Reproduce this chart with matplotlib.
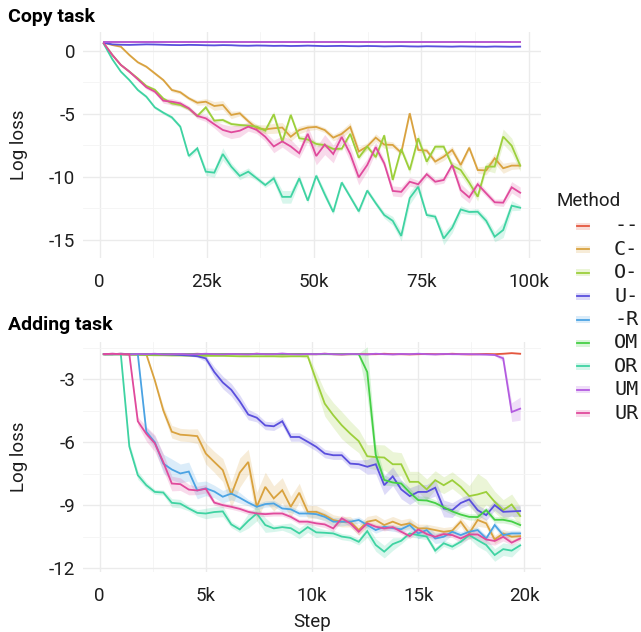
import numpy as np
import matplotlib
matplotlib.use("Agg")
import matplotlib.pyplot as plt
from matplotlib.lines import Line2D
from matplotlib.patches import Rectangle

plt.rcParams["font.family"] = ["Roboto", "DejaVu Sans"]

W, H = 641, 632

methods = ["--", "C-", "O-", "U-", "-R", "OM", "OR", "UM", "UR"]
method_colors = ["#E4573F", "#D9A23F", "#9CCF3B", "#5A4FDD", "#4BA3E3",
                 "#45CF45", "#3FD3A2", "#B35BE0", "#E04A9C"]

# ---------------- Copy task ----------------
copy_steps = np.linspace(1000, 98000, 50)

copy_dash = [0.70, 0.70, 0.70, 0.70, 0.70, 0.70, 0.70, 0.70, 0.70, 0.70,
             0.70, 0.70, 0.70, 0.70, 0.70, 0.70, 0.70, 0.70, 0.70, 0.70,
             0.70, 0.70, 0.70, 0.70, 0.70, 0.70, 0.70, 0.70, 0.70, 0.70,
             0.70, 0.70, 0.70, 0.70, 0.70, 0.70, 0.70, 0.70, 0.70, 0.70,
             0.70, 0.70, 0.70, 0.70, 0.70, 0.70, 0.70, 0.70, 0.70, 0.70]
copy_c = [0.64, 0.45, 0.32, -0.34, -0.92, -1.27, -1.80, -2.33, -3.12, -3.30,
          -3.78, -4.13, -4.05, -4.39, -4.31, -5.10, -4.97, -5.60, -6.16, -6.24,
          -6.16, -6.10, -6.83, -6.30, -6.10, -6.05, -6.30, -6.90, -6.60, -6.05,
          -8.00, -7.60, -6.90, -7.45, -7.48, -8.10, -4.97, -7.88, -7.93, -8.80,
          -8.41, -7.88, -9.07, -7.70, -9.47, -9.50, -8.54, -9.33, -9.12, -9.12]
copy_o = [0.58, -0.34, -1.13, -1.66, -2.20, -2.80, -3.10, -3.80, -4.18, -4.31,
          -4.60, -5.18, -4.50, -5.55, -5.50, -5.82, -5.90, -5.95, -6.03, -6.35,
          -5.05, -7.22, -5.10, -6.95, -7.05, -7.40, -7.50, -7.80, -7.78, -6.60,
          -8.50, -7.60, -8.45, -6.72, -10.26, -7.80, -9.47, -6.95, -8.81, -7.62,
          -7.62, -9.12, -9.47, -10.47, -11.59, -9.20, -9.20, -6.82, -7.54, -9.12]
copy_u = [0.62, 0.50, 0.47, 0.46, 0.48, 0.50, 0.49, 0.47, 0.45, 0.44,
          0.46, 0.45, 0.43, 0.42, 0.44, 0.43, 0.40, 0.39, 0.41, 0.40,
          0.38, 0.39, 0.37, 0.38, 0.40, 0.38, 0.36, 0.37, 0.38, 0.36,
          0.35, 0.37, 0.36, 0.34, 0.35, 0.36, 0.34, 0.33, 0.35, 0.34,
          0.33, 0.32, 0.34, 0.33, 0.32, 0.31, 0.33, 0.32, 0.31, 0.32]
copy_or = [0.53, -0.68, -1.66, -2.33, -3.12, -3.65, -4.50, -4.92, -5.29, -6.03,
           -8.36, -7.75, -9.60, -9.68, -8.20, -9.20, -9.94, -9.60, -10.13, -10.66,
           -10.13, -11.60, -11.60, -10.13, -11.90, -9.92, -11.40, -12.80, -10.46, -11.60,
           -12.75, -11.10, -12.10, -13.04, -13.50, -14.70, -11.70, -10.80, -13.04, -13.17,
           -14.90, -14.05, -12.60, -12.80, -12.78, -13.50, -14.76, -14.23, -12.30, -12.46]
copy_um = [0.68, 0.68, 0.68, 0.68, 0.68, 0.68, 0.68, 0.68, 0.68, 0.68,
           0.68, 0.68, 0.68, 0.68, 0.68, 0.68, 0.68, 0.68, 0.68, 0.68,
           0.68, 0.68, 0.68, 0.68, 0.68, 0.68, 0.68, 0.68, 0.68, 0.68,
           0.68, 0.68, 0.68, 0.68, 0.68, 0.68, 0.68, 0.68, 0.68, 0.68,
           0.68, 0.68, 0.68, 0.68, 0.68, 0.68, 0.68, 0.68, 0.68, 0.68]
copy_ur = [0.58, -0.34, -1.13, -1.66, -2.27, -2.90, -3.25, -3.97, -4.05, -4.18,
           -4.57, -5.18, -5.37, -5.84, -6.29, -6.48, -6.35, -6.03, -6.29, -6.83,
           -7.60, -7.20, -7.60, -8.14, -6.60, -8.36, -7.45, -8.20, -6.85, -8.20,
           -10.05, -9.07, -7.65, -8.94, -11.13, -11.20, -10.40, -10.60, -9.80, -10.40,
           -10.26, -9.07, -11.06, -11.64, -10.60, -11.32, -12.03, -12.06, -10.84, -11.27]

# half-widths of the shaded bands
copy_dash_sd = [0.02] * 50
copy_u_sd = [0.03] * 50
copy_um_sd = [0.02] * 50
copy_c_sd = [0.05, 0.05, 0.08, 0.10, 0.10, 0.10, 0.12, 0.12, 0.15, 0.15,
             0.15, 0.20, 0.25, 0.35, 0.35, 0.30, 0.20, 0.20, 0.30, 0.35,
             0.40, 0.40, 0.35, 0.30, 0.25, 0.20, 0.20, 0.25, 0.30, 0.35,
             0.35, 0.30, 0.30, 0.30, 0.25, 0.20, 0.20, 0.20, 0.20, 0.25,
             0.30, 0.30, 0.25, 0.20, 0.25, 0.35, 0.40, 0.40, 0.30, 0.25]
copy_o_sd = [0.05, 0.08, 0.10, 0.10, 0.10, 0.12, 0.12, 0.12, 0.15, 0.15,
             0.15, 0.15, 0.20, 0.15, 0.15, 0.15, 0.15, 0.15, 0.20, 0.20,
             0.25, 0.25, 0.20, 0.25, 0.25, 0.20, 0.20, 0.15, 0.15, 0.20,
             0.20, 0.20, 0.20, 0.20, 0.20, 0.25, 0.30, 0.35, 0.30, 0.20,
             0.20, 0.30, 0.40, 0.40, 0.35, 0.30, 0.50, 0.60, 0.60, 0.45]
copy_or_sd = [0.05, 0.08, 0.10, 0.10, 0.12, 0.12, 0.12, 0.12, 0.15, 0.15,
              0.20, 0.20, 0.30, 0.35, 0.50, 0.30, 0.30, 0.30, 0.20, 0.20,
              0.30, 0.50, 0.50, 0.30, 0.20, 0.20, 0.30, 0.20, 0.20, 0.20,
              0.20, 0.20, 0.20, 0.25, 0.35, 0.40, 0.50, 0.40, 0.20, 0.20,
              0.50, 0.40, 0.30, 0.20, 0.25, 0.30, 0.40, 0.60, 0.40, 0.20]
copy_ur_sd = [0.05, 0.08, 0.10, 0.12, 0.12, 0.15, 0.15, 0.20, 0.25, 0.20,
              0.20, 0.20, 0.25, 0.30, 0.45, 0.50, 0.50, 0.35, 0.30, 0.35,
              0.50, 0.45, 0.55, 0.40, 0.60, 0.70, 0.80, 0.70, 0.50, 0.60,
              0.60, 0.50, 0.40, 0.30, 0.40, 0.40, 0.35, 0.30, 0.25, 0.25,
              0.25, 0.30, 0.50, 0.45, 0.30, 0.25, 0.25, 0.30, 0.45, 0.45]

# ---------------- Adding task ----------------
add_steps = np.arange(200, 20000, 400)

add_dash = [-1.80, -1.80, -1.78, -1.80, -1.79, -1.80, -1.81, -1.80, -1.79, -1.80,
            -1.80, -1.78, -1.80, -1.81, -1.80, -1.79, -1.80, -1.80, -1.78, -1.80,
            -1.80, -1.81, -1.80, -1.79, -1.80, -1.80, -1.78, -1.80, -1.81, -1.80,
            -1.79, -1.80, -1.80, -1.78, -1.80, -1.80, -1.81, -1.80, -1.79, -1.80,
            -1.80, -1.78, -1.80, -1.81, -1.80, -1.79, -1.80, -1.78, -1.75, -1.78]
add_c = [-1.80, -1.80, -1.80, -1.80, -1.80, -1.80, -3.05, -4.48, -5.50, -5.64,
         -5.67, -5.71, -6.54, -6.94, -7.33, -8.50, -7.45, -6.94, -9.08, -8.13,
         -8.68, -8.29, -9.08, -8.41, -9.32, -9.32, -9.48, -9.71, -9.79, -9.79,
         -10.19, -9.79, -9.71, -9.95, -9.79, -9.95, -9.87, -10.11, -10.11, -10.19,
         -10.27, -10.22, -9.79, -10.35, -9.71, -9.87, -10.64, -10.35, -10.51, -10.48]
add_o = [-1.80, -1.80, -1.80, -1.82, -1.83, -1.84, -1.85, -1.85, -1.86, -1.86,
         -1.87, -1.87, -1.88, -1.88, -1.88, -1.89, -1.90, -1.90, -1.90, -1.90,
         -1.90, -1.91, -1.90, -1.90, -1.90, -3.05, -4.16, -4.71, -5.19, -5.59,
         -5.95, -6.67, -6.71, -6.73, -7.05, -7.05, -7.89, -7.89, -8.25, -7.81,
         -8.05, -7.81, -8.13, -8.57, -8.49, -8.37, -8.84, -9.24, -8.97, -9.52]
add_u = [-1.80, -1.80, -1.78, -1.80, -1.80, -1.80, -1.80, -1.81, -1.82, -1.84,
         -1.86, -1.90, -2.00, -2.65, -3.15, -3.50, -4.05, -4.68, -4.83, -5.20,
         -5.24, -5.00, -5.75, -5.75, -5.98, -6.22, -6.54, -6.62, -6.62, -7.02,
         -7.05, -7.17, -7.05, -8.05, -7.63, -8.25, -8.57, -8.37, -8.37, -8.17,
         -9.16, -9.24, -8.90, -8.73, -9.24, -9.48, -9.00, -9.32, -9.30, -9.28]
add_r = [-1.80, -1.80, -1.80, -1.80, -1.80, -5.50, -6.00, -7.02, -7.30, -7.49,
         -7.40, -8.30, -8.20, -8.35, -8.60, -8.45, -8.65, -8.88, -9.08, -8.95,
         -8.92, -9.16, -9.20, -9.40, -9.40, -9.43, -9.56, -9.79, -9.79, -9.79,
         -9.71, -9.95, -10.19, -10.03, -10.10, -10.15, -9.95, -10.35, -10.19, -10.59,
         -10.51, -10.27, -10.43, -10.27, -10.19, -10.59, -9.95, -10.43, -10.35, -10.35]
add_om = [-1.80, -1.80, -1.80, -1.80, -1.80, -1.80, -1.80, -1.80, -1.80, -1.80,
          -1.80, -1.80, -1.80, -1.80, -1.80, -1.80, -1.80, -1.80, -1.80, -1.80,
          -1.80, -1.80, -1.80, -1.80, -1.80, -1.80, -1.80, -1.80, -1.80, -1.80,
          -1.80, -2.65, -6.60, -7.80, -7.92, -7.97, -8.40, -8.76, -8.78, -8.90,
          -9.10, -9.30, -9.45, -9.56, -9.57, -9.24, -9.70, -9.70, -9.78, -9.95]
add_or = [-1.80, -1.80, -1.80, -6.20, -7.57, -8.05, -8.37, -8.40, -8.89, -8.93,
          -9.16, -9.37, -9.40, -9.33, -9.30, -9.92, -10.16, -9.75, -9.40, -9.95,
          -10.11, -10.05, -10.10, -10.35, -10.05, -10.30, -10.32, -10.35, -10.50, -10.56,
          -10.75, -10.24, -10.90, -11.22, -10.86, -10.70, -10.35, -10.43, -10.50, -11.17,
          -10.82, -10.98, -10.75, -10.43, -10.67, -10.90, -11.38, -11.10, -11.17, -10.92]
add_um = [-1.80, -1.78, -1.80, -1.81, -1.79, -1.80, -1.78, -1.81, -1.80, -1.79,
          -1.81, -1.80, -1.78, -1.80, -1.81, -1.79, -1.80, -1.81, -1.78, -1.80,
          -1.80, -1.77, -1.80, -1.81, -1.79, -1.80, -1.78, -1.80, -1.81, -1.79,
          -1.80, -1.81, -1.78, -1.80, -1.81, -1.79, -1.80, -1.78, -1.80, -1.81,
          -1.79, -1.80, -1.80, -1.80, -1.81, -1.82, -1.84, -2.00, -4.56, -4.40]
add_ur = [-1.80, -1.78, -1.80, -1.80, -5.00, -5.60, -6.05, -6.95, -7.97, -8.00,
          -8.26, -8.30, -8.22, -8.88, -9.00, -9.08, -9.18, -9.32, -9.40, -9.43,
          -9.40, -9.40, -9.56, -9.79, -9.79, -9.87, -9.92, -10.11, -9.63, -9.87,
          -10.27, -9.87, -10.03, -10.11, -10.05, -10.27, -10.48, -10.16, -10.38, -10.51,
          -10.38, -10.43, -10.59, -10.40, -10.40, -10.64, -10.71, -10.51, -10.79, -10.59]

add_dash_sd = [0.03] * 50
add_c_sd = [0.03, 0.03, 0.03, 0.03, 0.03, 0.05, 0.10, 0.20, 0.30, 0.30,
            0.30, 0.35, 0.50, 0.50, 0.55, 0.60, 0.70, 0.60, 0.70, 0.70,
            0.60, 0.60, 0.50, 0.45, 0.30, 0.30, 0.25, 0.25, 0.25, 0.25,
            0.25, 0.25, 0.25, 0.25, 0.25, 0.25, 0.25, 0.20, 0.20, 0.20,
            0.20, 0.20, 0.20, 0.30, 0.30, 0.20, 0.20, 0.20, 0.20, 0.20]
add_o_sd = [0.03, 0.03, 0.03, 0.03, 0.03, 0.03, 0.03, 0.03, 0.03, 0.03,
            0.03, 0.03, 0.03, 0.03, 0.03, 0.03, 0.03, 0.03, 0.03, 0.03,
            0.03, 0.03, 0.03, 0.03, 0.10, 0.40, 0.60, 0.60, 0.65, 0.60,
            0.55, 0.55, 0.60, 0.60, 0.60, 0.55, 0.50, 0.50, 0.50, 0.45,
            0.40, 0.40, 0.40, 0.50, 1.00, 0.60, 0.50, 0.50, 0.50, 0.45]
add_u_sd = [0.03, 0.03, 0.03, 0.03, 0.03, 0.03, 0.03, 0.03, 0.03, 0.03,
            0.03, 0.05, 0.15, 0.25, 0.30, 0.30, 0.30, 0.25, 0.20, 0.20,
            0.20, 0.20, 0.20, 0.20, 0.20, 0.20, 0.20, 0.20, 0.20, 0.20,
            0.20, 0.35, 0.45, 0.45, 0.45, 0.45, 0.40, 0.35, 0.35, 0.40,
            0.40, 0.35, 0.25, 0.25, 0.25, 0.25, 0.25, 0.25, 0.25, 0.25]
add_r_sd = [0.03, 0.03, 0.03, 0.03, 0.03, 0.20, 0.30, 0.45, 0.50, 0.45,
            0.45, 0.40, 0.35, 0.30, 0.30, 0.30, 0.25, 0.15, 0.15, 0.15,
            0.15, 0.15, 0.15, 0.15, 0.15, 0.20, 0.20, 0.20, 0.20, 0.15,
            0.15, 0.15, 0.15, 0.15, 0.15, 0.15, 0.25, 0.25, 0.25, 0.25,
            0.25, 0.15, 0.15, 0.15, 0.15, 0.15, 0.15, 0.15, 0.15, 0.15]
add_om_sd = [0.03, 0.03, 0.03, 0.03, 0.03, 0.03, 0.03, 0.03, 0.03, 0.03,
             0.03, 0.03, 0.03, 0.03, 0.03, 0.03, 0.03, 0.03, 0.03, 0.03,
             0.03, 0.03, 0.03, 0.03, 0.03, 0.03, 0.03, 0.03, 0.03, 0.03,
             0.05, 1.20, 0.50, 0.25, 0.15, 0.15, 0.20, 0.20, 0.20, 0.15,
             0.15, 0.15, 0.15, 0.15, 0.15, 0.15, 0.15, 0.15, 0.15, 0.15]
add_or_sd = [0.03, 0.03, 0.03, 0.20, 0.20, 0.15, 0.12, 0.12, 0.20, 0.20,
             0.12, 0.15, 0.25, 0.25, 0.25, 0.15, 0.15, 0.35, 0.35, 0.35,
             0.15, 0.15, 0.25, 0.25, 0.25, 0.25, 0.15, 0.15, 0.15, 0.15,
             0.15, 0.30, 0.30, 0.30, 0.30, 0.15, 0.15, 0.15, 0.15, 0.15,
             0.15, 0.15, 0.15, 0.15, 0.30, 0.30, 0.30, 0.30, 0.30, 0.15]
add_um_sd = [0.03] * 47 + [0.15, 0.45, 0.55]
add_ur_sd = [0.03, 0.03, 0.03, 0.03, 0.20, 0.35, 0.40, 0.40, 0.35, 0.30,
             0.25, 0.20, 0.20, 0.12, 0.12, 0.12, 0.12, 0.12, 0.12, 0.12,
             0.12, 0.12, 0.12, 0.12, 0.12, 0.12, 0.15, 0.15, 0.15, 0.15,
             0.15, 0.12, 0.12, 0.12, 0.12, 0.12, 0.12, 0.12, 0.12, 0.12,
             0.12, 0.12, 0.20, 0.20, 0.20, 0.20, 0.20, 0.20, 0.12, 0.12]

copy_series = {"--": (copy_dash, copy_dash_sd), "C-": (copy_c, copy_c_sd),
               "O-": (copy_o, copy_o_sd), "U-": (copy_u, copy_u_sd),
               "OR": (copy_or, copy_or_sd), "UM": (copy_um, copy_um_sd),
               "UR": (copy_ur, copy_ur_sd)}
add_series = {"--": (add_dash, add_dash_sd), "C-": (add_c, add_c_sd),
              "O-": (add_o, add_o_sd), "U-": (add_u, add_u_sd),
              "-R": (add_r, add_r_sd), "OM": (add_om, add_om_sd),
              "OR": (add_or, add_or_sd), "UM": (add_um, add_um_sd),
              "UR": (add_ur, add_ur_sd)}

TEXT = "#1E1E1E"
FS = 13.5


def px_box(left, top, right, bottom):
    return [left / W, 1 - bottom / H, (right - left) / W, (bottom - top) / H]


def draw_panel(ax, steps, series):
    for m, c in zip(methods, method_colors):
        if m in series:
            y, sd = series[m]
            y = np.asarray(y)
            sd = np.asarray(sd)
            ax.fill_between(steps, y - sd, y + sd, color=c, alpha=0.2,
                            linewidth=0, zorder=2)
    for m, c in zip(methods, method_colors):
        if m in series:
            ax.plot(steps, series[m][0], color=c, lw=1.3, zorder=3,
                    solid_joinstyle="miter")


def style_axes(ax, xmaj, xlabels, xmin, ymaj, ymin):
    for s in ax.spines.values():
        s.set_visible(False)
    ax.set_xticks(xmaj)
    ax.set_xticklabels(xlabels)
    ax.set_xticks(xmin, minor=True)
    ax.set_yticks(ymaj)
    ax.set_yticklabels([f"{v:g}" for v in ymaj])
    ax.set_yticks(ymin, minor=True)
    ax.grid(True, which="major", color="#EBEBEB", lw=1.0, zorder=0)
    ax.grid(True, which="minor", color="#F4F4F4", lw=0.6, zorder=0)
    ax.tick_params(which="both", length=0)
    ax.tick_params(axis="x", pad=10.5, labelsize=FS, labelcolor=TEXT)
    ax.tick_params(axis="y", pad=5.5, labelsize=FS, labelcolor=TEXT)
    ax.set_ylabel("Log loss", fontsize=FS, color=TEXT)
    ax.set_axisbelow(True)


fig = plt.figure(figsize=(W / 100, H / 100), dpi=100)

ax1 = fig.add_axes(px_box(83, 32, 541, 258))
draw_panel(ax1, copy_steps, copy_series)
ax1.set_xlim(-3850, 102850)
ax1.set_ylim(-16.45, 1.48)
style_axes(ax1, [0, 25000, 50000, 75000, 100000], ["0", "25k", "50k", "75k", "100k"],
           [12500, 37500, 62500, 87500], [-15, -10, -5, 0], [-12.5, -7.5, -2.5])

ax2 = fig.add_axes(px_box(83, 342, 541, 572))
draw_panel(ax2, add_steps, add_series)
ax2.set_xlim(-780, 20780)
ax2.set_ylim(-12.19, -1.22)
style_axes(ax2, [0, 5000, 10000, 15000, 20000], ["0", "5k", "10k", "15k", "20k"],
           [2500, 7500, 12500, 17500], [-12, -9, -6, -3], [-10.5, -7.5, -4.5, -1.5])
ax2.set_xlabel("Step", fontsize=FS, color=TEXT)
ax2.xaxis.set_label_coords(0.5, -(613 - 572) / 230)

for ax in (ax1, ax2):
    ax.yaxis.set_label_coords(-(83 - 28) / 458, 0.5)

fig.text(8 / W, 1 - 16.5 / H, "Copy task", fontsize=14, fontweight="bold",
         color="black", va="center", ha="left")
fig.text(8 / W, 1 - 325 / H, "Adding task", fontsize=14, fontweight="bold",
         color="black", va="center", ha="left")

# legend
fig.text(556 / W, 1 - 201 / H, "Method", fontsize=FS, color=TEXT,
         va="center", ha="left")
for k, (m, c) in enumerate(zip(methods, method_colors)):
    yc = 226 + 23.4 * k
    fig.add_artist(Rectangle((576 / W, 1 - (yc + 3.5) / H), 14 / W, 7 / H,
                             transform=fig.transFigure, facecolor=c, alpha=0.2,
                             edgecolor="none"))
    fig.add_artist(Line2D([577 / W, 589 / W], [1 - yc / H, 1 - yc / H],
                          transform=fig.transFigure, color=c, lw=1.3))
    fig.text(614 / W, 1 - yc / H, m, fontsize=14.5, family="DejaVu Sans Mono",
             color=TEXT, va="center", ha="left")

fig.savefig("out.png", dpi=100)
